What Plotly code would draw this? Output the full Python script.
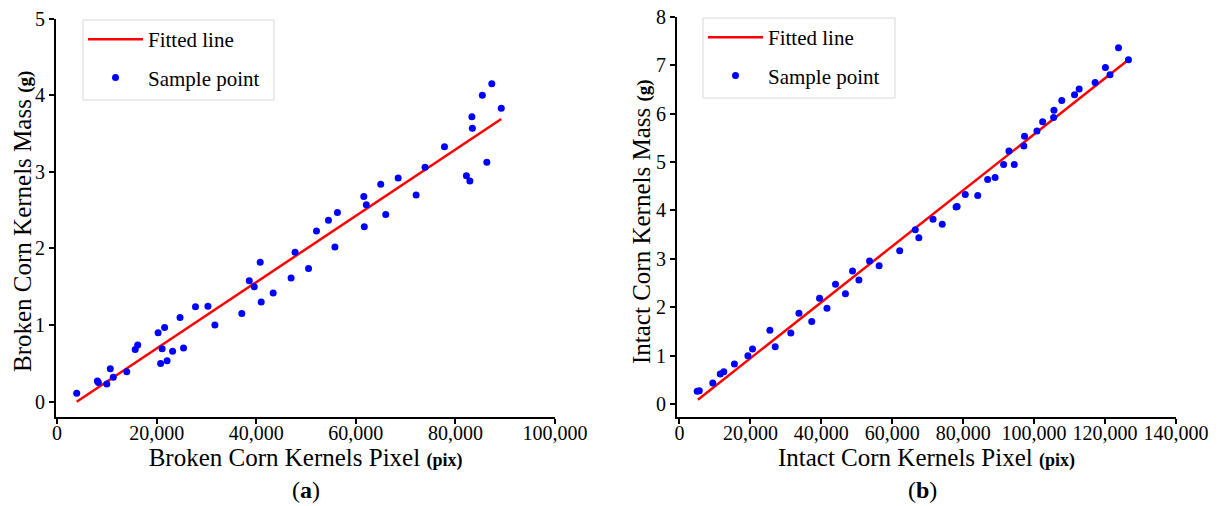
import plotly.graph_objects as go
from plotly.subplots import make_subplots

# (a) broken corn kernels: pixel count vs mass (g)
broken_pix = [3950, 8100, 8300, 10000, 10700, 11300, 14000, 15700, 16200, 20300,
              21600, 21100, 20800, 22100, 23200, 24700, 25400, 27800, 30300, 31700,
              37100, 38600, 39600, 40800, 41000, 43400, 47000, 47800, 50500, 52100,
              54500, 56300, 55800, 61600, 62100, 61700, 65000, 66000, 68500, 72100,
              73900, 77800, 82200, 82900, 83300, 83400, 85400, 86300, 87300, 89200]
broken_mass = [0.11, 0.27, 0.25, 0.23, 0.43, 0.32, 0.39, 0.68, 0.74, 0.90,
               0.97, 0.69, 0.50, 0.535, 0.66, 1.10, 0.70, 1.24, 1.245, 1.00,
               1.15, 1.58, 1.50, 1.82, 1.30, 1.42, 1.615, 1.95, 1.74, 2.23,
               2.37, 2.47, 2.02, 2.68, 2.57, 2.285, 2.84, 2.445, 2.92, 2.70,
               3.06, 3.33, 2.95, 2.88, 3.72, 3.57, 4.00, 3.125, 4.15, 3.83]
broken_fit_x = [3950, 89200]
broken_fit_y = [0.0, 3.69]

# (b) intact corn kernels: pixel count vs mass (g)
intact_pix = [5000, 5600, 9400, 11500, 12500, 15500, 19300, 20600, 25500, 27000,
              31400, 33700, 37300, 39500, 41600, 44000, 46800, 48800, 50600, 53600,
              56300, 62100, 66500, 67500, 71500, 74100, 78000, 78300, 80600, 84100,
              86900, 89000, 91400, 92900, 94400, 97100, 97300, 100800, 102400, 105500,
              105600, 107800, 111400, 112700, 117200, 120100, 121400, 123800, 126600]
intact_mass = [0.27, 0.28, 0.44, 0.625, 0.67, 0.83, 1.00, 1.14, 1.53, 1.19,
               1.47, 1.88, 1.71, 2.19, 1.98, 2.48, 2.28, 2.75, 2.565, 2.96,
               2.86, 3.17, 3.60, 3.44, 3.82, 3.715, 4.07, 4.08, 4.33, 4.31,
               4.64, 4.68, 4.95, 5.23, 4.95, 5.33, 5.53, 5.64, 5.83, 5.92,
               6.07, 6.27, 6.39, 6.51, 6.64, 6.95, 6.80, 7.36, 7.11]
intact_fit_x = [5200, 126600]
intact_fit_y = [0.095, 7.11]

FONT = "Liberation Serif, Times New Roman, serif"
W, H = 1218, 506

fig = make_subplots(rows=1, cols=2)

# fitted lines + sample points, each panel with its own legend
fig.add_trace(go.Scatter(x=broken_fit_x, y=broken_fit_y, mode='lines', name='Fitted line',
                         line=dict(color='red', width=2.5), legend='legend', legendgroup='a1'), row=1, col=1)
fig.add_trace(go.Scatter(x=broken_pix, y=broken_mass, mode='markers', name='Sample point',
                         marker=dict(color='blue', size=7), legend='legend', legendgroup='a2'), row=1, col=1)
fig.add_trace(go.Scatter(x=intact_fit_x, y=intact_fit_y, mode='lines', name='Fitted line',
                         line=dict(color='red', width=2.5), legend='legend2', legendgroup='b1'), row=1, col=2)
fig.add_trace(go.Scatter(x=intact_pix, y=intact_mass, mode='markers', name='Sample point',
                         marker=dict(color='blue', size=7), legend='legend2', legendgroup='b2'), row=1, col=2)

axis_style = dict(showline=True, linecolor='black', linewidth=2, showgrid=False, zeroline=False,
                  ticks='outside', ticklen=5, tickwidth=1.5, tickcolor='black', automargin=False,
                  tickfont=dict(family=FONT, size=20, color='black'))

fig.update_xaxes(ticklabelstandoff=-8, **axis_style)
fig.update_yaxes(**axis_style)

title_font = dict(family=FONT, size=25, color='black')
legend_style = dict(xanchor='left', yanchor='top', bgcolor='rgba(0,0,0,0)', borderwidth=0,
                    traceorder='grouped', tracegroupgap=8, itemwidth=55,
                    font=dict(family=FONT, size=21, color='black'))

# legend frames
def box(x0, x1, y0, y1):
    return dict(type='rect', xref='paper', yref='paper', x0=x0 / W, x1=x1 / W,
                y0=1 - y1 / H, y1=1 - y0 / H, line=dict(color='#d8d8d8', width=1),
                fillcolor='white', layer='below')

x_unit = " <b><span style='font-size:18px'>(pix)</span></b>"
y_unit = " <b><span style='font-size:19px'>(g)</span></b>"

def label(text, x, y, angle=0, size=25):
    return dict(text=text, x=x / W, y=1 - y / H, xref='paper', yref='paper', showarrow=False,
                xanchor='center', yanchor='middle', textangle=angle,
                font=dict(family=FONT, size=size, color='black'))

fig.update_layout(
    xaxis=dict(domain=[0.046, 0.4557], range=[-200, 100000], tickvals=[0, 20000, 40000, 60000, 80000, 100000],
               tickformat=',', title=dict(text="Broken Corn Kernels Pixel" + x_unit, font=title_font, standoff=0)),
    yaxis=dict(domain=[0.1765, 0.963], range=[-0.196, 5.0], tickvals=[0, 1, 2, 3, 4, 5]),
    xaxis2=dict(domain=[0.5558, 0.9655], range=[-700, 140000],
                tickvals=[0, 20000, 40000, 60000, 80000, 100000, 120000, 140000],
                tickformat=',', title=dict(text="Intact Corn Kernels Pixel" + x_unit, font=title_font, standoff=0)),
    yaxis2=dict(domain=[0.1765, 0.967], range=[-0.256, 8.0], tickvals=list(range(9))),
    legend=dict(x=83 / W, y=1 - 19 / H, **legend_style),
    legend2=dict(x=703 / W, y=1 - 17 / H, **legend_style),
    shapes=[box(83, 274, 20, 100), box(703, 895, 18, 98)],
    annotations=[
        label("Broken Corn Kernels Mass" + y_unit, 22, 222, angle=-90),
        label("Intact Corn Kernels Mass" + y_unit, 641, 222, angle=-90),
        label("(<b>a</b>)", 306, 490, size=24),
        label("(<b>b</b>)", 922, 490, size=24),
    ],
    width=W, height=H,
    margin=dict(l=0, r=0, t=0, b=0),
    plot_bgcolor='white', paper_bgcolor='white',
)

# page body has a default 8px margin; drop it so the figure sits at the window origin
fig.write_html("out.html", config={'displayModeBar': False},
               post_script="document.body.style.margin='0';")
